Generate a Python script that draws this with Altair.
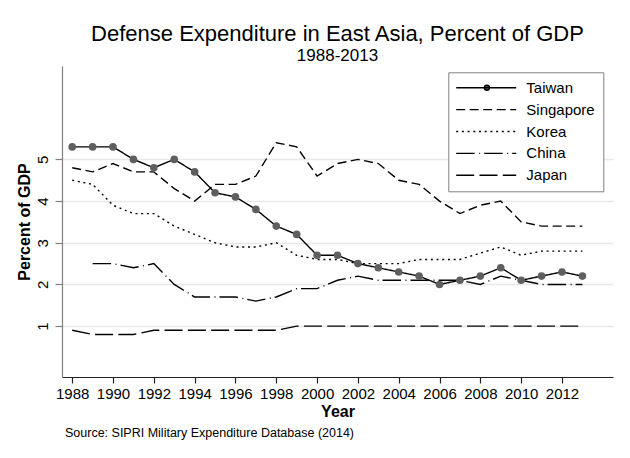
import altair as alt
import pandas as pd

FONT = "Liberation Sans"

years = list(range(1988, 2014))
countries = ["Taiwan", "Singapore", "Korea", "China", "Japan"]
taiwan = [5.3, 5.3, 5.3, 5.0, 4.8, 5.0, 4.7, 4.2, 4.1, 3.8, 3.4, 3.2, 2.7,
          2.7, 2.5, 2.4, 2.3, 2.2, 2.0, 2.1, 2.2, 2.4, 2.1, 2.2, 2.3, 2.2]
singapore = [4.8, 4.7, 4.9, 4.7, 4.7, 4.3, 4.0, 4.4, 4.4, 4.6, 5.4, 5.3, 4.6,
             4.9, 5.0, 4.9, 4.5, 4.4, 4.0, 3.7, 3.9, 4.0, 3.5, 3.4, 3.4, 3.4]
korea = [4.5, 4.4, 3.9, 3.7, 3.7, 3.4, 3.2, 3.0, 2.9, 2.9, 3.0, 2.7, 2.6,
         2.6, 2.5, 2.5, 2.5, 2.6, 2.6, 2.6, 2.75, 2.9, 2.7, 2.8, 2.8, 2.8]
china = [None, 2.5, 2.5, 2.4, 2.5, 2.0, 1.7, 1.7, 1.7, 1.6, 1.7, 1.9, 1.9,
         2.1, 2.2, 2.1, 2.1, 2.1, 2.1, 2.1, 2.0, 2.2, 2.1, 2.0, 2.0, 2.0]
japan = [0.9, 0.8, 0.8, 0.8, 0.9, 0.9, 0.9, 0.9, 0.9, 0.9, 0.9, 1.0, 1.0,
         1.0, 1.0, 1.0, 1.0, 1.0, 1.0, 1.0, 1.0, 1.0, 1.0, 1.0, 1.0, 1.0]
x_ticks = [1988, 1990, 1992, 1994, 1996, 1998, 2000, 2002, 2004, 2006, 2008, 2010, 2012]
y_ticks = [1, 2, 3, 4, 5]

title_text = "Defense Expenditure in East Asia, Percent of GDP"
subtitle_text = "1988-2013"
x_title = "Year"
y_title = "Percent of GDP"
source_text = "Source: SIPRI Military Expenditure Database (2014)"

series = {"Taiwan": taiwan, "Singapore": singapore, "Korea": korea,
          "China": china, "Japan": japan}
rows = []
for c in countries:
    for yr, v in zip(years, series[c]):
        if v is not None:
            rows.append({"year": yr, "country": c, "value": v})
df = pd.DataFrame(rows)
df_tw = df[df["country"] == "Taiwan"]

# line styles (pixels)
dash_patterns = {
    "Taiwan": [1, 0],
    "Singapore": [9, 4.5],
    "Korea": [2, 3.7],
    "China": [18.5, 4.5, 1, 4],
    "Japan": [18, 5.3],
}

SYM_X0 = -7.6     # start of legend line relative to symbol centre
SYM_LEN = 60.0


def dash_path(pattern, length=SYM_LEN, x0=SYM_X0):
    parts = []
    pos = 0.0
    i = 0
    while pos < length:
        seg = pattern[i % len(pattern)]
        if i % 2 == 0:
            end = min(pos + seg, length)
            parts.append(f"M{x0 + pos:.2f},0H{x0 + end:.2f}")
        pos += seg
        i += 1
    return "".join(parts)


def taiwan_path(length=SYM_LEN, x0=SYM_X0, cx=23.1, r=2.5):
    return (f"M{x0:.2f},0H{x0 + length:.2f}"
            f"M{cx + r:.2f},0A{r},{r} 0 1,1 {cx - r:.2f},0A{r},{r} 0 1,1 {cx + r:.2f},0Z")


legend_shapes = [taiwan_path()] + [dash_path(dash_patterns[c]) for c in countries[1:]]
# separate (alphabetical) domain for the drawn dashes so it is not merged with the legend
dash_domain = sorted(countries)

W, H = 551, 311

x_enc = alt.X(
    "year:Q",
    scale=alt.Scale(domain=[1987.5, 2014.5], nice=False, zero=False),
    axis=alt.Axis(values=x_ticks, format="d", title=x_title, grid=False,
                  tickSize=6, tickColor="#222222", domainColor="#222222",
                  tickWidth=1.2, domainWidth=1.2,
                  labelFontSize=15, labelColor="black", labelPadding=3,
                  labelOverlap=False, labelFlush=False,
                  titleFontSize=16, titleFontWeight="bold", titleColor="black",
                  titlePadding=2),
)
y_enc = alt.Y(
    "value:Q",
    scale=alt.Scale(domain=[-0.22, 7.24], nice=False, zero=False),
    axis=alt.Axis(values=y_ticks, title=y_title, grid=True,
                  gridColor="#e8e8e8", gridWidth=1.5,
                  tickSize=7, tickColor="#808080", domainColor="#808080",
                  tickWidth=1.2, domainWidth=1.2,
                  labelAngle=270, labelAlign="center", labelBaseline="bottom",
                  labelFontSize=15, labelColor="black", labelPadding=5,
                  titleFontSize=16, titleFontWeight="bold", titleColor="black",
                  titlePadding=3),
)

lines = alt.Chart(df).mark_line(color="black", strokeWidth=1.4).encode(
    x=x_enc,
    y=y_enc,
    strokeDash=alt.StrokeDash(
        "country:N",
        scale=alt.Scale(domain=dash_domain, range=[dash_patterns[c] for c in dash_domain]),
        legend=None,
    ),
)

points = alt.Chart(df_tw).mark_circle(color="#5f5f5f", size=58, opacity=1).encode(
    x="year:Q",
    y="value:Q",
)

legend_layer = alt.Chart(df).mark_point(
    filled=False, fill="#5f5f5f", stroke="black", strokeWidth=1.4, opacity=0, size=4
).encode(
    x="year:Q",
    y="value:Q",
    shape=alt.Shape(
        "country:N",
        scale=alt.Scale(domain=countries, range=legend_shapes),
        legend=alt.Legend(
            title=None, orient="none", legendX=386.3, legendY=6.3,
            symbolSize=4, symbolStrokeWidth=1.4, symbolOpacity=1,
            labelFont=FONT, labelFontSize=15, labelColor="black", labelOffset=55,
            labelExpr="datum.label + '\u00a0\u00a0'",
            padding=8, rowPadding=5.85, strokeColor="#808080", fillColor="white",
            cornerRadius=0, direction="vertical",
        ),
    ),
)

note = alt.Chart(pd.DataFrame({"note": [source_text]})).mark_text(
    align="left", baseline="alphabetic", font=FONT, fontSize=12.5, color="black"
).encode(
    x=alt.value(3),
    y=alt.value(370.7),
    text="note:N",
)

chart = alt.layer(lines, points, legend_layer, note).properties(
    width=W,
    height=H,
    padding={"left": 54, "top": 58, "right": 8, "bottom": 70},
    autosize=alt.AutoSizeParams(type="none"),
    title=alt.Title(
        title_text, subtitle=subtitle_text,
        font=FONT, fontSize=22, fontWeight="normal", color="black",
        subtitleFont=FONT, subtitleFontSize=17, subtitleColor="black",
        anchor="middle", frame="group", offset=1, subtitlePadding=2,
    ),
).configure_axis(
    labelFont=FONT, titleFont=FONT,
).configure_view(stroke=None)

chart.save("out.html", embed_options={"renderer": "svg", "actions": False})
